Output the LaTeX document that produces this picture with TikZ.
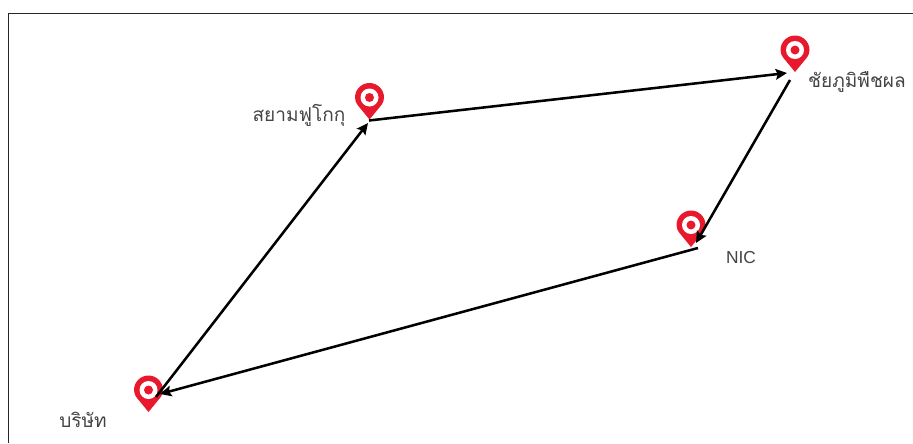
\documentclass[tikz,border=0pt]{standalone}
\usepackage{fontspec}
\usepackage{xcolor}
\usetikzlibrary{arrows.meta,positioning}
\setmainfont{Liberation Sans}
\newfontfamily\thaifont[Script=Thai]{Loma}
\definecolor{pinred}{HTML}{E8192C}
\definecolor{labelgray}{HTML}{444444}

\begin{document}
\begin{tikzpicture}[
  x=0.75pt, y=-0.75pt,
  >={Stealth[length=8.5pt,width=8pt,inset=1.5pt]},
  route/.style={->, line width=1.9pt, black},
  place/.style={text=labelgray, inner sep=0pt, font=\fontsize{14.3pt}{16pt}\selectfont\thaifont},
  pin/.pic={
    \fill[pinred] (0,0) -- (-11.5,-14) .. controls (-13.8,-17) and (-14.5,-19.5) .. (-14.5,-22)
       arc (180:360:14.5) .. controls (14.5,-19.5) and (13.8,-17) .. (11.5,-14) -- cycle;
    \fill[white] (0,-22) circle (9);
    \fill[pinred] (0,-22) circle (4.5);
  }
]
  \useasboundingbox (0,0) rectangle (913,443);
  % frame
  \draw[line width=1.1pt, black!85] (8.5,443) -- (8.5,13.5) -- (913,13.5);
  % pins
  \pic at (148.5,412) {pin};
  \pic at (369.5,119.5) {pin};
  \pic at (795,72) {pin};
  \pic at (691,247) {pin};
  % labels
  \node[place] (company) at (83,420) {บริษัท};
  \node[place] (siam) at (299,115) {สยามฟูโกกุ};
  \node[place] (chai) at (857,82) {ชัยภูมิพืชผล};
  \node[place, font=\fontsize{13pt}{16pt}\selectfont] (nic) at (741,258) {NIC};
  % route ends
  \coordinate (companyout) at (156,397);
  \coordinate (siamin) at (368,123);
  \coordinate (siamout) at (369,120.5);
  \coordinate (chaiin) at (787,73);
  \coordinate (chaiout) at (790,80);
  \coordinate (nicin) at (696,243);
  \coordinate (nicout) at (698,248);
  \coordinate (companyin) at (160,394);
  % routes
  \draw[route] (companyout) -- (siamin);
  \draw[route] (siamout) -- (chaiin);
  \draw[route] (chaiout) -- (nicin);
  \draw[route] (nicout) -- (companyin);
\end{tikzpicture}
\end{document}
